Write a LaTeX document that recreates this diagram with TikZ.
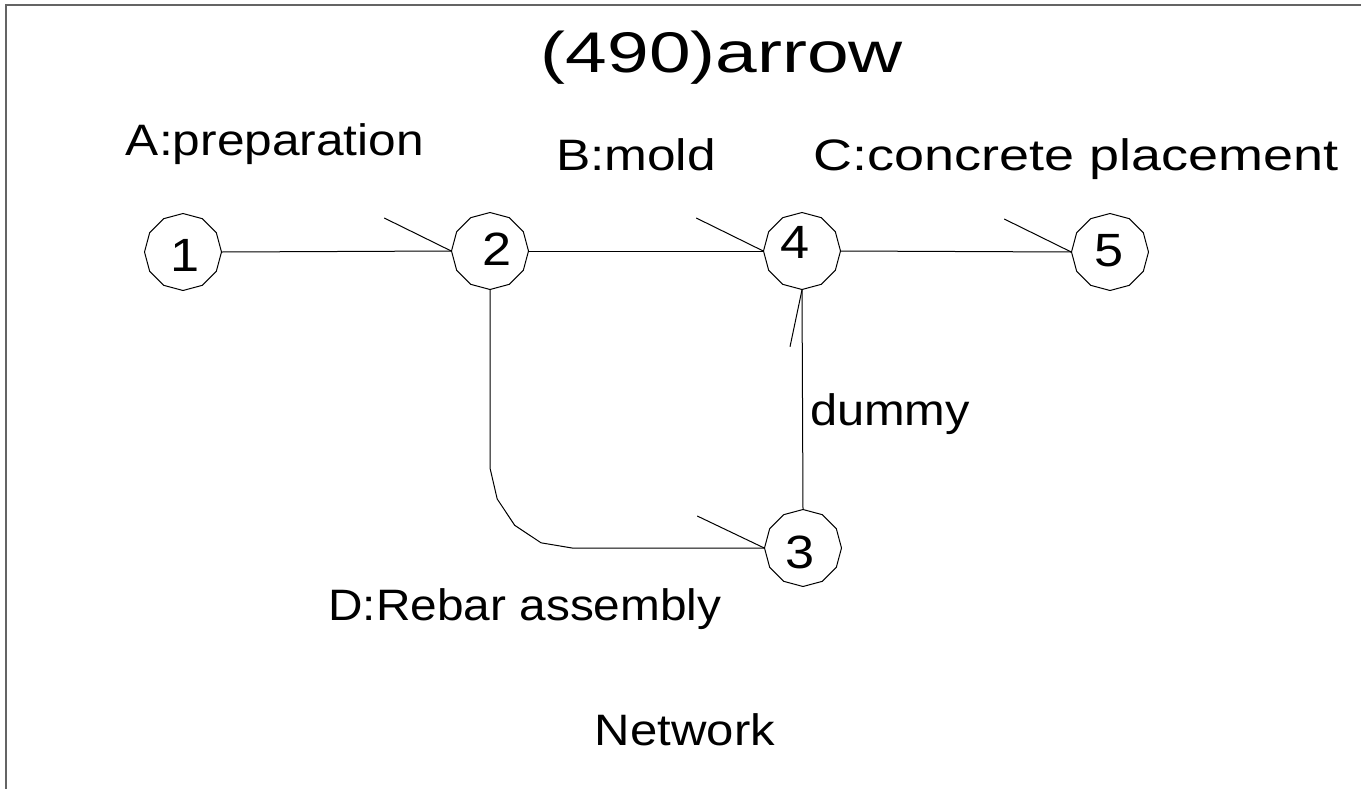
\documentclass[tikz,border=0pt]{standalone}
\usepackage{fontspec}
\setmainfont{Liberation Sans}
\usepackage{graphicx}
\tikzset{
 px/.style={x=0.75pt,y=-0.75pt},
 ev/.style={circle, draw=none, inner sep=0pt, minimum size=57.75pt},
 lbl/.style={inner sep=0pt, anchor=base},
 dig/.style={inner sep=0pt, anchor=center},
 ln/.style={line width=0.75pt, draw=black, line join=round},
 frame/.style={line width=1.2pt, draw={rgb,255:red,100;green,100;blue,100}},
}
\newcommand{\wtext}[3]{\resizebox{#1}{\height}{\fontsize{#2}{#2}\selectfont #3}}
\newcommand{\digtext}[1]{\scalebox{1.12}[1]{\fontsize{35}{36}\selectfont #1}}
\newcommand{\dodec}[1]{\draw[ln,shift={(#1.center)}] (0:38.5) \foreach \a in {30,60,...,330}{ -- (\a:38.5)} -- cycle;}
\begin{document}
\begin{tikzpicture}[px]
\useasboundingbox (0,0) rectangle (1361,789);
\draw[frame] (6,789) -- (6,5) -- (1361,5);
% title
\node[lbl] (title) at (722,72) {\wtext{271.5pt}{43pt}{(490)arrow}};
% event nodes
\node[ev] (n1) at (183,252) {};
\node[ev] (n2) at (490,251) {};
\node[ev] (n4) at (802,251) {};
\node[ev] (n5) at (1110,252) {};
\node[ev] (n3) at (803,548) {};
\dodec{n1}\dodec{n2}\dodec{n3}\dodec{n4}\dodec{n5}
% digits
\node[dig] (d1) at (185,255) {\digtext{1}};
\node[dig] (d2) at (497,249) {\digtext{2}};
\node[dig] (d4) at (795,242) {\digtext{4}};
\node[dig] (d5) at (1109,251) {\digtext{5}};
\node[dig] (d3) at (800,552) {\digtext{3}};
% activity labels
\node[lbl] (la) at (275,155) {\wtext{223.5pt}{33pt}{A:preparation}};
\node[lbl] (lb) at (636,170) {\wtext{120pt}{33pt}{B:mold}};
\node[lbl] (lc) at (1076,170) {\wtext{393.75pt}{33pt}{C:concrete placement}};
\node[lbl] (ldm) at (890,425) {\wtext{120pt}{33pt}{dummy}};
\node[lbl] (ld) at (525,620) {\wtext{294.75pt}{33pt}{D:Rebar assembly}};
\node[lbl] (net) at (685,745) {\wtext{135pt}{33pt}{Network}};
% connectors
\draw[ln] (n1.east) -- (n2.west);
\draw[ln] (n2.east) -- (n4.west);
\draw[ln] (n4.east) -- (n5.west);
\draw[ln] (n3.north) -- (n4.south);
\draw[ln] (n2.south) -- (n2.south |- 0,468) -- (497.2,499) -- (514.7,525.3) -- (541,542.8) -- (572,548) -- (n3.west);
% half arrowheads
\draw[ln] (n2.west) -- ++(-67,-33);
\draw[ln] (n4.west) -- ++(-67,-33);
\draw[ln] (n5.west) -- ++(-67,-33);
\draw[ln] (n3.west) -- ++(-67,-32);
\draw[ln] (n4.south) -- ++(-12,57);
\end{tikzpicture}
\end{document}
